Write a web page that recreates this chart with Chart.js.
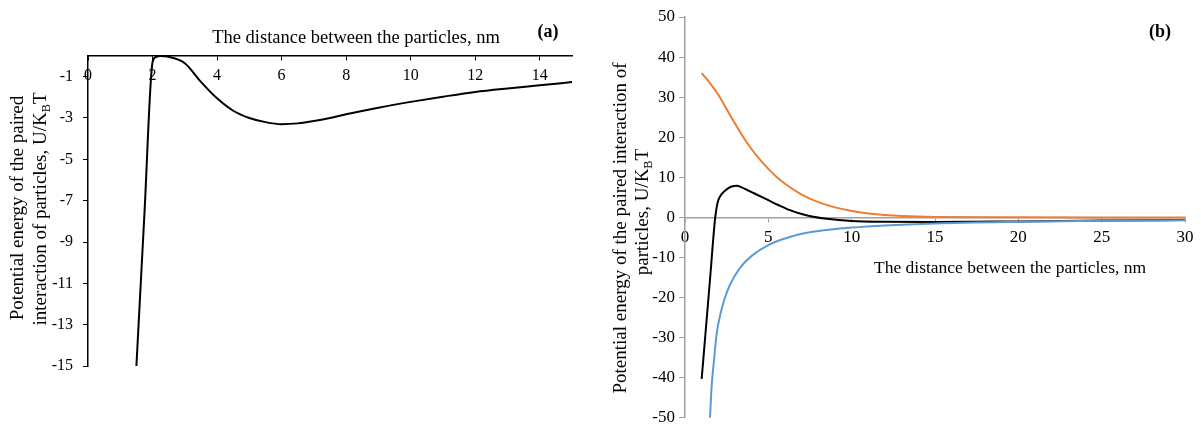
<!DOCTYPE html>
<html>
<head>
<meta charset="utf-8">
<script src="https://cdn.jsdelivr.net/npm/chart.js@4.4.1/dist/chart.umd.min.js"></script>
<style>
  html, body { margin: 0; padding: 0; background: #fff; }
  #wrap { position: relative; width: 1201px; height: 432px; overflow: hidden; }
  canvas { position: absolute; top: 0; }
  #chartA { left: 0; }
  #chartB { left: 600px; }
</style>
</head>
<body>
<div id="wrap">
  <canvas id="chartA" width="600" height="432"></canvas>
  <canvas id="chartB" width="601" height="432"></canvas>
</div>
<script>
// panel (a): pair potential, nm vs U/kT
const xA = [1.5, 1.75, 2.0, 2.1, 2.25, 2.5, 3, 3.5, 4, 4.5, 5, 5.5, 6, 6.5, 7, 7.5, 8, 9, 10, 11, 12, 13, 14, 15];
const uA = [-15, -7.6, -0.3, -0.05, 0, -0.04, -0.35, -1.25, -2.05, -2.65, -3.0, -3.2, -3.3, -3.26, -3.15, -3.0, -2.82, -2.5, -2.22, -1.97, -1.74, -1.57, -1.42, -1.26];
const xTicksA = [0, 2, 4, 6, 8, 10, 12, 14];
const yTicksA = [-15, -13, -11, -9, -7, -5, -3, -1];

// panel (b): total (black), repulsive (orange), attractive (blue)
const xOrange = [1, 1.5, 2, 2.5, 3, 3.5, 4, 4.5, 5, 5.5, 6, 7, 8, 9, 10, 11, 12, 13, 15, 20, 25, 30];
const uOrange = [36, 33.5, 30.6, 27, 23.4, 20, 17, 14.4, 12.1, 10.1, 8.4, 5.7, 3.8, 2.5, 1.6, 1.0, 0.6, 0.35, 0.12, 0.02, 0, 0];
const xBlack = [1, 1.5, 1.8, 1.9, 2.0, 2.2, 2.5, 2.8, 3.1, 3.4, 3.7, 4.2, 5, 5.6, 6.3, 7, 7.7, 8.5, 10, 12, 15, 20, 25, 30];
const uBlack = [-40.3, -15.5, -0.5, 2.5, 4.3, 5.8, 7.0, 7.7, 7.9, 7.5, 6.9, 5.9, 4.3, 3.1, 1.8, 0.85, 0.17, -0.35, -0.9, -1.1, -1.15, -1.0, -0.8, -0.65];
const xBlue = [1.5, 1.6, 1.72, 1.9, 2.12, 2.4, 2.7, 3.3, 4, 5, 6.7, 8, 10, 12, 15, 20, 25, 30];
const uBlue = [-50, -42, -36.5, -29, -24.2, -20, -16.8, -12.6, -9.6, -6.9, -4.4, -3.4, -2.55, -2.0, -1.5, -1.1, -0.85, -0.7];
const xTicksB = [0, 5, 10, 15, 20, 25, 30];
const yTicksB = [-50, -40, -30, -20, -10, 0, 10, 20, 30, 40, 50];

const FONT = '"Liberation Serif", "Times New Roman", serif';
Chart.defaults.font.family = FONT;
Chart.defaults.font.size = 16;
Chart.defaults.color = '#000';

const pts = (xs, ys) => xs.map((x, i) => ({ x: x, y: ys[i] }));

// text with subscripts, centred on (x, y)
const textPlugin = {
  id: 'extraText',
  afterDraw(chart, args, opts) {
    const ctx = chart.ctx;
    (opts.items || []).forEach(it => {
      const size = it.size || 17;
      const w = it.bold ? 'bold ' : '';
      ctx.save();
      ctx.translate(it.x, it.y);
      if (it.rot) ctx.rotate(it.rot);
      ctx.fillStyle = '#000';
      ctx.textBaseline = 'middle';
      ctx.textAlign = 'left';
      let total = 0;
      const widths = it.parts.map(p => {
        ctx.font = w + (p[1] ? size * 0.65 : size) + 'px ' + FONT;
        const m = ctx.measureText(p[0]).width;
        total += m;
        return m;
      });
      let cx = -total / 2;
      it.parts.forEach((p, i) => {
        ctx.font = w + (p[1] ? size * 0.65 : size) + 'px ' + FONT;
        ctx.fillText(p[0], cx, p[1] ? size * 0.3 : 0);
        cx += widths[i];
      });
      ctx.restore();
    });
  }
};

const setTicks = arr => s => { s.ticks = arr.map(v => ({ value: v })); };

new Chart(document.getElementById('chartA'), {
  type: 'scatter',
  data: {
    datasets: [{
      data: pts(xA, uA),
      borderColor: '#000',
      borderWidth: 2,
      showLine: true,
      pointRadius: 0,
      cubicInterpolationMode: 'monotone',
      clip: false
    }]
  },
  options: {
    responsive: false,
    animation: false,
    layout: { padding: { left: 0, top: 56, right: 28, bottom: 66 } },
    plugins: {
      legend: { display: false },
      tooltip: { enabled: false },
      extraText: {
        items: [
          { x: 356, y: 38, size: 18.5, parts: [['The distance between the particles, nm']] },
          { x: 548, y: 32, size: 18, bold: true, parts: [['(a)']] },
          { x: 18, y: 208, size: 19, rot: -Math.PI / 2, parts: [['Potential energy of the paired']] },
          { x: 41, y: 209, size: 19, rot: -Math.PI / 2, parts: [['interaction of particles, U/K'], ['B', true], ['T']] }
        ]
      }
    },
    scales: {
      x: {
        type: 'linear',
        position: { y: 0 },
        min: 0, max: 15,
        afterBuildTicks: setTicks(xTicksA),
        grid: { display: true, drawOnChartArea: false, tickLength: 4, tickColor: '#000' },
        border: { color: '#000', width: 1.5 },
        ticks: { padding: 6, maxRotation: 0 }
      },
      y: {
        type: 'linear',
        min: -15, max: 0,
        afterBuildTicks: setTicks(yTicksA),
        afterFit: s => { s.width = 88; },
        grid: { display: true, drawOnChartArea: false, tickLength: 5, tickColor: '#000' },
        border: { color: '#000', width: 1.5 },
        ticks: { padding: 10 }
      }
    }
  },
  plugins: [textPlugin]
});

new Chart(document.getElementById('chartB'), {
  type: 'scatter',
  data: {
    datasets: [
      { data: pts(xBlue, uBlue), borderColor: '#5B9BD5' },
      { data: pts(xBlack, uBlack), borderColor: '#000' },
      { data: pts(xOrange, uOrange), borderColor: '#ED7D31' }
    ].map(d => Object.assign(d, {
      borderWidth: 2,
      showLine: true,
      pointRadius: 0,
      cubicInterpolationMode: 'monotone',
      clip: false
    }))
  },
  options: {
    responsive: false,
    animation: false,
    layout: { padding: { left: 0, top: 17, right: 16, bottom: 11 } },
    plugins: {
      legend: { display: false },
      tooltip: { enabled: false },
      extraText: {
        items: [
          { x: 410, y: 268, size: 17.5, parts: [['The distance between the particles, nm']] },
          { x: 560, y: 32, size: 18, bold: true, parts: [['(b)']] },
          { x: 21, y: 228, size: 19, rot: -Math.PI / 2, parts: [['Potential energy of the paired interaction of']] },
          { x: 43, y: 212, size: 19, rot: -Math.PI / 2, parts: [['particles, U/K'], ['B', true], ['T']] }
        ]
      }
    },
    scales: {
      x: {
        type: 'linear',
        position: { y: 0 },
        min: 0, max: 30,
        afterBuildTicks: setTicks(xTicksB),
        grid: { display: true, drawOnChartArea: false, tickLength: 4, tickColor: '#A0A0A0' },
        border: { color: '#A0A0A0', width: 1.5 },
        ticks: { padding: 6, maxRotation: 0, font: { size: 17 } }
      },
      y: {
        type: 'linear',
        min: -50, max: 50,
        afterBuildTicks: setTicks(yTicksB),
        afterFit: s => { s.width = 85; },
        grid: { display: true, drawOnChartArea: false, tickLength: 6, tickColor: '#A0A0A0' },
        border: { color: '#A0A0A0', width: 1.5 },
        ticks: { padding: 4, font: { size: 17 } }
      }
    }
  },
  plugins: [textPlugin]
});
</script>
</body>
</html>
